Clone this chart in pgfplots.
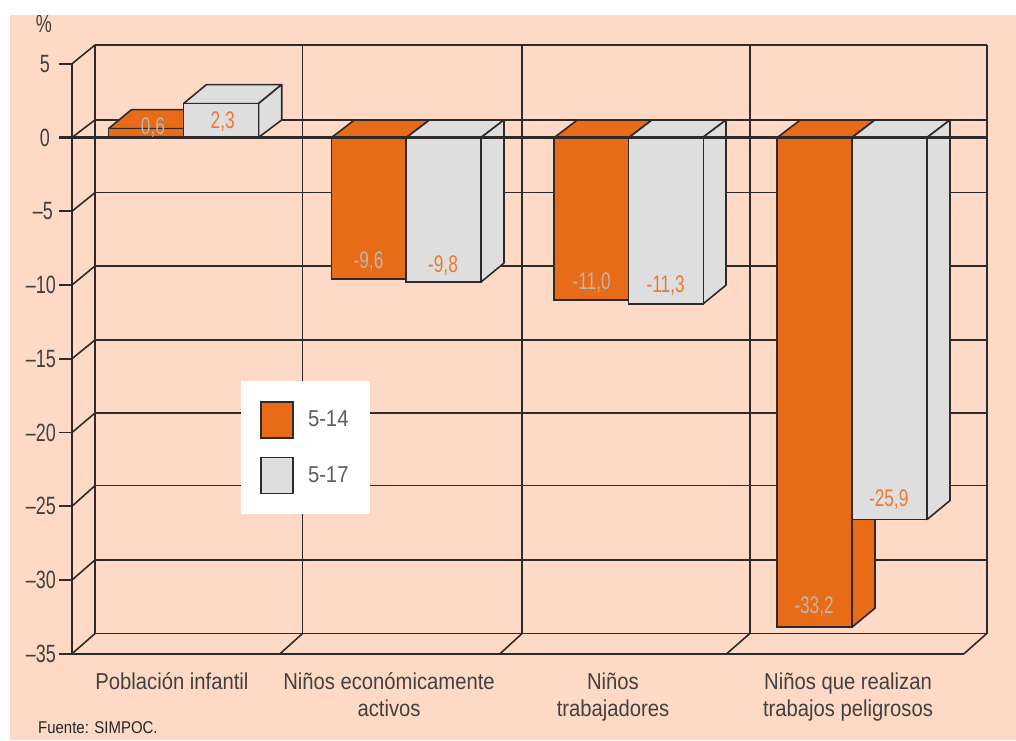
\documentclass[border=0pt]{standalone}
\usepackage{fontspec}
\setmainfont[FakeStretch=0.88]{Liberation Sans}
\newfontfamily\narrowfont[FakeStretch=0.72]{Liberation Sans}
\usepackage{pgfplots}
\pgfplotsset{compat=1.18}
\definecolor{peach}{HTML}{FEDAC6}
\definecolor{naranja}{HTML}{E86C18}
\definecolor{gris}{HTML}{DEDEDE}
\definecolor{trazo}{HTML}{2E2A2A}
\definecolor{rotulo}{HTML}{444040}
\definecolor{valgris}{HTML}{BDB5AE}
\definecolor{valnar}{HTML}{E97A35}
\pgfplotsset{
  rejilla/.style={draw=trazo,line width=1.6pt,forget plot},
  caraN/.style={fill=naranja,draw=trazo,line width=1.6pt,line join=round,forget plot},
  caraG/.style={fill=gris,draw=trazo,line width=1.6pt,line join=round,forget plot},
}
\tikzset{
  valor/.style={font=\narrowfont\fontsize{24}{26}\selectfont,inner sep=0pt},
}
\begin{document}
\begin{tikzpicture}
% page and tinted panel; the axis' lower left corner sits at the origin
\useasboundingbox (-72pt,-86.25pt) rectangle (944pt,653.75pt);
\fill[white] (-72pt,-86.25pt) rectangle (944pt,653.75pt);
\fill[peach] (-62pt,-86.25pt) rectangle (944pt,638.75pt);
\begin{axis}[
  at={(0,0)}, anchor=south west,
  scale only axis, width=892pt, height=590pt,
  xmin=72, xmax=964, ymin=-35, ymax=5,
  clip=false,
  axis lines=left,
  axis line style={-,trazo,line width=1.6pt},
  ytick={-35,-30,-25,-20,-15,-10,-5,0,5},
  yticklabels={–35\kern-6pt,–30\kern-6pt,–25\kern-6pt,–20\kern-6pt,–15\kern-6pt,–10\kern-6pt,–5\kern-3pt,0,5},
  xtick={172,389,613,848},
  xticklabels={Población infantil,{Niños económicamente\\activos},{Niños\\trabajadores},{Niños que realizan\\trabajos peligrosos}},
  tick align=outside,
  major tick length=13pt,
  ytick style={trazo,line width=1.6pt},
  xtick style={draw=none},
  yticklabel style={font=\narrowfont\fontsize{25}{28}\selectfont,text=rotulo,inner sep=0pt,xshift=-9pt},
  xticklabel style={font=\fontsize{23}{26.5}\selectfont,text=rotulo,align=center,inner sep=0pt,yshift=-6pt},
  legend style={
    at={(axis cs:240.7,-16.49)},anchor=north west,
    draw=none,fill=white,
    inner xsep=19pt,inner ysep=20pt,
    font=\fontsize{23}{26}\selectfont,text=rotulo!85,
    row sep=18pt,
    /tikz/every odd column/.append style={column sep=12pt},
  },
  legend cell align=left,
  legend image code/.code={\draw[#1,line width=1.6pt,draw=trazo] (1.5pt,-18pt) rectangle (34pt,18pt);},
]
% back wall gridlines
\addplot[rejilla] coordinates {(95,6.27) (986.7,6.27)};
\addplot[rejilla] coordinates {(95,1.19) (986.7,1.19)};
\addplot[rejilla] coordinates {(95,-3.74) (986.7,-3.74)};
\addplot[rejilla] coordinates {(95,-8.71) (986.7,-8.71)};
\addplot[rejilla] coordinates {(95,-13.73) (986.7,-13.73)};
\addplot[rejilla] coordinates {(95,-18.68) (986.7,-18.68)};
\addplot[rejilla] coordinates {(95,-23.6) (986.7,-23.6)};
\addplot[rejilla] coordinates {(95,-28.64) (986.7,-28.64)};
\addplot[rejilla] coordinates {(95,-33.63) (986.7,-33.63)};
% back wall verticals
\addplot[rejilla] coordinates {(95,6.27) (95,-33.63)};
\addplot[rejilla] coordinates {(302.5,6.27) (302.5,-33.63)};
\addplot[rejilla] coordinates {(522,6.27) (522,-33.63)};
\addplot[rejilla] coordinates {(749.7,6.27) (749.7,-33.63)};
\addplot[rejilla] coordinates {(986.7,6.27) (986.7,-33.63)};
% receding edges on the left wall
\addplot[rejilla] coordinates {(72,5) (95,6.27)};
\addplot[rejilla] coordinates {(72,0) (95,1.19)};
\addplot[rejilla] coordinates {(72,-5) (95,-3.74)};
\addplot[rejilla] coordinates {(72,-10) (95,-8.71)};
\addplot[rejilla] coordinates {(72,-15) (95,-13.73)};
\addplot[rejilla] coordinates {(72,-20) (95,-18.68)};
\addplot[rejilla] coordinates {(72,-25) (95,-23.6)};
\addplot[rejilla] coordinates {(72,-30) (95,-28.64)};
\addplot[rejilla] coordinates {(72,-35) (95,-33.63)};
% receding edges on the floor
\addplot[rejilla] coordinates {(280,-35) (302.5,-33.63)};
\addplot[rejilla] coordinates {(500,-35) (522,-33.63)};
\addplot[rejilla] coordinates {(726.7,-35) (749.7,-33.63)};
\addplot[rejilla] coordinates {(964,-35) (986.7,-33.63)};
% 5-14: top and side faces
\addplot[caraN] coordinates {(108.5,0.6) (183.5,0.6) (206.5,1.89) (131.5,1.89) (108.5,0.6)};
\addplot[caraN] coordinates {(331.5,0) (406.5,0) (429.5,1.19) (354.5,1.19) (331.5,0)};
\addplot[caraN] coordinates {(406.5,0) (429.5,1.19) (429.5,-8.31) (406.5,-9.6) (406.5,0)};
\addplot[caraN] coordinates {(554.3,0) (629,0) (652,1.19) (577.3,1.19) (554.3,0)};
\addplot[caraN] coordinates {(629,0) (652,1.19) (652,-9.71) (629,-11) (629,0)};
\addplot[caraN] coordinates {(777.3,0) (852,0) (875,1.19) (800.3,1.19) (777.3,0)};
\addplot[caraN] coordinates {(852,0) (875,1.19) (875,-31.91) (852,-33.2) (852,0)};
% 5-14: front faces
\addplot[ybar,bar width=75,bar shift=0pt,fill=naranja,draw=trazo,line width=1.6pt]
  coordinates {(146,0.6) (369,-9.6) (591.65,-11.0) (814.65,-33.2)};
\addlegendentry{5-14}
% 5-17: top and side faces
\addplot[caraG] coordinates {(183.5,2.3) (258.5,2.3) (281.7,3.59) (206.5,3.59) (183.5,2.3)};
\addplot[caraG] coordinates {(258.5,0) (281.7,1.19) (281.7,3.59) (258.5,2.3) (258.5,0)};
\addplot[caraG] coordinates {(406.5,0) (481,0) (504,1.19) (429.5,1.19) (406.5,0)};
\addplot[caraG] coordinates {(481,0) (504,1.19) (504,-8.51) (481,-9.8) (481,0)};
\addplot[caraG] coordinates {(629,0) (702.7,0) (726,1.19) (652,1.19) (629,0)};
\addplot[caraG] coordinates {(702.7,0) (726,1.19) (726,-10.01) (702.7,-11.3) (702.7,0)};
\addplot[caraG] coordinates {(852,0) (927,0) (950,1.19) (875,1.19) (852,0)};
\addplot[caraG] coordinates {(927,0) (950,1.19) (950,-24.61) (927,-25.9) (927,0)};
% 5-17: front faces
\addplot[ybar,bar width=75,bar shift=0pt,fill=gris,draw=trazo,line width=1.6pt]
  coordinates {(221,2.3) (443.75,-9.8) (665.85,-11.3) (889.5,-25.9)};
\addlegendentry{5-17}
% heavy zero line
\addplot[draw=trazo,line width=2.8pt,forget plot] coordinates {(59,0) (986.7,0)};
% value labels
\node[valor,text=valgris] at (axis cs:153,0.7) {0,6};
\node[valor,text=valnar]  at (axis cs:222.7,1.07) {2,3};
\node[valor,text=valgris] at (axis cs:368.5,-8.45) {-9,6};
\node[valor,text=valnar]  at (axis cs:443,-8.7) {-9,8};
\node[valor,text=valgris] at (axis cs:591.7,-9.85) {-11,0};
\node[valor,text=valnar]  at (axis cs:665.7,-10.07) {-11,3};
\node[valor,text=valgris] at (axis cs:814,-31.8) {-33,2};
\node[valor,text=valnar]  at (axis cs:888.7,-24.58) {-25,9};
\end{axis}
% unit and source
\node[font=\narrowfont\fontsize{25}{28}\selectfont,text=rotulo,inner sep=0pt] at (-28pt,630pt) {\%};
\node[font=\fontsize{17}{20}\selectfont,text=black!85,inner sep=0pt,anchor=west] at (-34pt,-73.5pt) {Fuente: SIMPOC.};
\fill[white] (-72pt,638.75pt) rectangle (944pt,653.75pt);
\end{tikzpicture}
\end{document}
